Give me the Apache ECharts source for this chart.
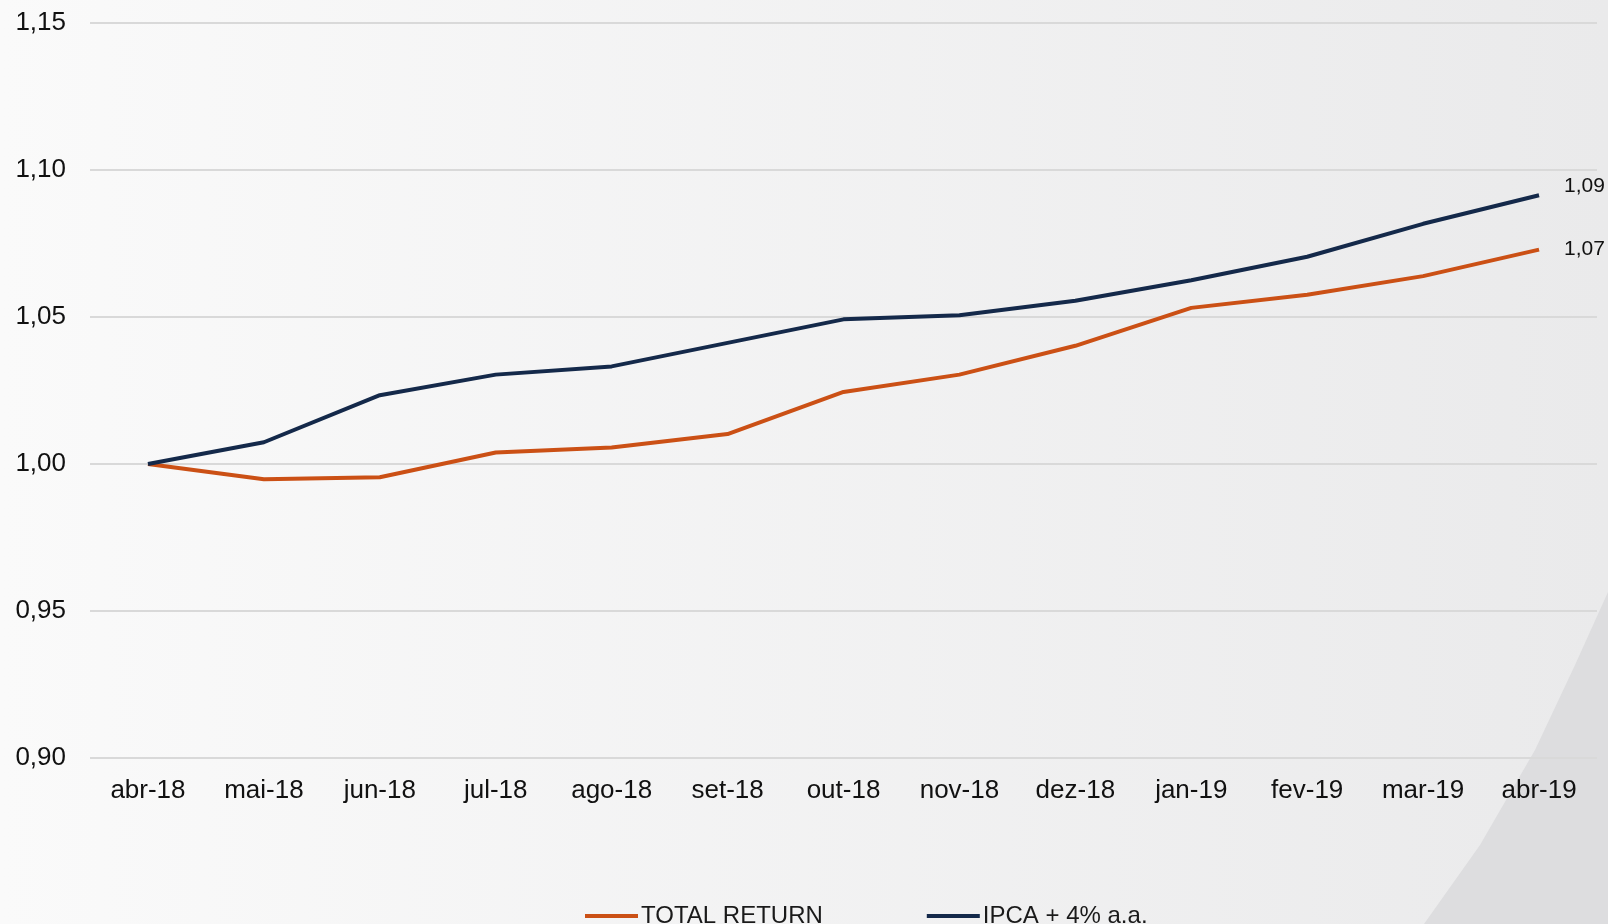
<!DOCTYPE html>
<html>
<head>
<meta charset="utf-8">
<script src="https://cdn.jsdelivr.net/npm/echarts@6/dist/echarts.min.js"></script>
<style>
  html, body { margin: 0; padding: 0; }
  #chart { width: 1608px; height: 924px; }
</style>
</head>
<body>
<div id="chart"></div>
<script>
// categorias (meses)
const months = ['abr-18', 'mai-18', 'jun-18', 'jul-18', 'ago-18', 'set-18', 'out-18',
  'nov-18', 'dez-18', 'jan-19', 'fev-19', 'mar-19', 'abr-19'];
// valores
const totalReturn = [1.0000, 0.9948, 0.9955, 1.0039, 1.0056, 1.0102, 1.0245,
  1.0304, 1.0402, 1.0531, 1.0576, 1.0639, 1.0729];
const ipca = [1.0000, 1.0074, 1.0234, 1.0304, 1.0332, 1.0412, 1.0492,
  1.0506, 1.0555, 1.0625, 1.0705, 1.0817, 1.0914];
const seriesNames = ['TOTAL RETURN', 'IPCA + 4% a.a.'];
const colors = ['#CB5015', '#14294A'];

const fmt = v => Number(v).toFixed(2).replace('.', ',');
const font = '"Liberation Sans", Arial, sans-serif';

const chart = echarts.init(document.getElementById('chart'));
chart.setOption({
  backgroundColor: {
    type: 'linear', x: 0, y: 0, x2: 1, y2: 0,
    colorStops: [
      { offset: 0, color: '#fafafa' },
      { offset: 1, color: '#eaeaeb' }
    ]
  },
  color: colors,
  textStyle: { fontFamily: font },
  // faixa decorativa no canto inferior direito
  graphic: [{
    type: 'polygon',
    z: -10,
    shape: { points: [[1608, 592], [1608, 924], [1424, 924], [1480, 845], [1535, 750], [1575, 665]] },
    style: { fill: '#dddddf' }
  }],
  legend: {
    data: seriesNames,
    left: 580,
    top: 899,
    itemWidth: 53,
    itemHeight: 4,
    itemGap: 104,
    icon: 'rect',
    textStyle: { fontSize: 24, color: '#1a1a1a', fontFamily: font, padding: [0, 0, 0, -2] }
  },
  grid: {
    left: 90,
    right: 11,
    top: 23,
    bottom: 166,
    containLabel: false
  },
  xAxis: {
    type: 'category',
    boundaryGap: true,
    data: months,
    axisLine: { show: false },
    axisTick: { show: false },
    axisLabel: { fontSize: 26, color: '#111', margin: 20, fontFamily: font }
  },
  yAxis: {
    type: 'value',
    min: 0.90,
    max: 1.15,
    interval: 0.05,
    axisLine: { show: false },
    axisTick: { show: false },
    axisLabel: { fontSize: 26, color: '#111', margin: 24, formatter: fmt, fontFamily: font },
    splitLine: { lineStyle: { color: '#d9d9d9', width: 2 } }
  },
  series: [
    {
      name: seriesNames[0],
      type: 'line',
      data: totalReturn,
      symbol: 'none',
      lineStyle: { width: 4, color: colors[0] },
      endLabel: {
        show: true, formatter: p => fmt(p.value), distance: 25,
        fontSize: 21, color: '#111', fontFamily: font
      }
    },
    {
      name: seriesNames[1],
      type: 'line',
      data: ipca,
      symbol: 'none',
      lineStyle: { width: 4, color: colors[1] },
      endLabel: {
        show: true, formatter: p => fmt(p.value), distance: 25, offset: [0, -9],
        fontSize: 21, color: '#111', fontFamily: font
      }
    }
  ]
});
</script>
</body>
</html>
